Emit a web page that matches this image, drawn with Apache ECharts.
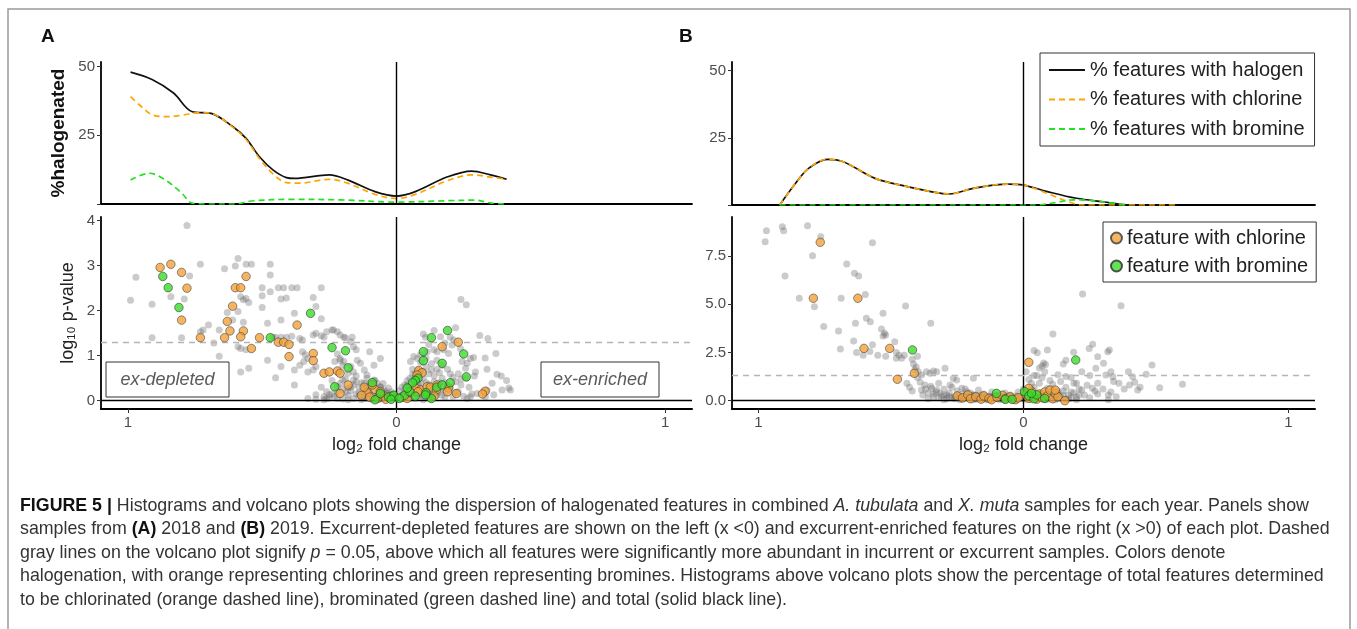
<!DOCTYPE html>
<html>
<head>
<meta charset="utf-8">
<title>Figure 5</title>
<script src="https://cdn.jsdelivr.net/npm/echarts@6/dist/echarts.min.js"></script>
<style>
html, body { margin: 0; padding: 0; background: #fff; }
#chart { width: 1357px; height: 629px; }
</style>
</head>
<body>
<div id="chart"></div>
<script>
// tick values
const xTickValues = [-1, 0, 1]
const histTickValues = [0, 25, 50]
const histLabelValues = [25, 50]
const pTicksA = [0, 1, 2, 3, 4]
const pTicksB = [0, 2.5, 5, 7.5]
const pCutoff = 1.3

// histogram curves, [log2 fold change, % halogenated]
const histAHalogen = [[-0.99, 48.0], [-0.91, 45.3], [-0.83, 40.4], [-0.76, 33.6], [-0.69, 33.0], [-0.61, 28.2], [-0.56, 23.9], [-0.51, 17.2], [-0.46, 12.4], [-0.41, 9.6], [-0.38, 9.3], [-0.25, 10.6], [-0.18, 8.7], [-0.08, 4.5], [0, 2.9], [0.07, 4.5], [0.19, 9.9], [0.28, 12.0], [0.35, 10.6], [0.41, 9.0]]
const histAChlorine = [[-0.99, 39.1], [-0.95, 35.5], [-0.91, 32.5], [-0.86, 31.8], [-0.8, 32.3], [-0.73, 33.3], [-0.69, 33.0], [-0.61, 28.0], [-0.56, 23.5], [-0.51, 16.5], [-0.46, 11.0], [-0.41, 7.8], [-0.36, 7.6], [-0.25, 9.0], [-0.18, 7.5], [-0.08, 3.5], [0, 2.0], [0.07, 3.5], [0.19, 8.5], [0.28, 10.6], [0.35, 9.8], [0.41, 9.0]]
const histABromine = [[-0.99, 8.7], [-0.92, 11.2], [-0.86, 8.7], [-0.8, 4.0], [-0.76, 0.3], [-0.7, 0], [-0.6, 0], [-0.54, 1.1], [-0.39, 1.7], [-0.21, 1.5], [0, 0.7], [0.19, 1.2], [0.29, 1.4], [0.35, 0.4], [0.4, 0]]
const histBHalogen = [[-0.92, 0], [-0.86, 8.1], [-0.81, 13.7], [-0.74, 17.0], [-0.68, 16.1], [-0.56, 9.9], [-0.45, 7.1], [-0.35, 5.0], [-0.28, 4.1], [-0.19, 6.2], [-0.06, 7.8], [0, 7.4], [0.09, 5.0], [0.2, 2.5], [0.3, 1.2], [0.4, 0], [0.58, 0]]
const histBChlorine = [[-0.92, 0], [-0.86, 8.1], [-0.81, 13.7], [-0.74, 17.0], [-0.68, 16.1], [-0.56, 9.9], [-0.45, 7.1], [-0.35, 5.0], [-0.28, 4.1], [-0.19, 6.2], [-0.06, 7.8], [0, 7.4], [0.09, 4.3], [0.17, 1.2], [0.22, 0], [0.58, 0]]
const histBBromine = [[-0.92, 0], [0.05, 0], [0.12, 0.9], [0.19, 1.9], [0.26, 1.6], [0.34, 0.6], [0.4, 0]]

// volcano points, [log2 fold change, log10 p-value]
const volcanoAOther = [
  [-0.99, 2.23], [-0.97, 2.74], [-0.91, 2.14], [-0.91, 1.40], [-0.84, 2.31], [-0.80, 1.40], [-0.79, 2.26], [-0.78, 3.89], [-0.77, 2.77], [-0.73, 3.03],
  [-0.72, 1.57], [-0.73, 1.53], [-0.70, 1.68], [-0.68, 1.28], [-0.66, 1.57], [-0.66, 0.99], [-0.64, 2.93], [-0.63, 1.96], [-0.61, 1.79], [-0.60, 2.99],
  [-0.59, 3.16], [-0.59, 1.98], [-0.59, 1.20], [-0.58, 2.31], [-0.58, 1.16], [-0.58, 0.64], [-0.57, 2.24], [-0.57, 1.74], [-0.56, 3.03], [-0.56, 2.27],
  [-0.56, 1.13], [-0.55, 2.18], [-0.55, 0.72], [-0.54, 3.03], [-0.50, 2.51], [-0.50, 2.33], [-0.50, 2.07], [-0.48, 1.72], [-0.48, 0.90], [-0.47, 3.03],
  [-0.47, 2.79], [-0.47, 2.42], [-0.46, 1.41], [-0.45, 1.41], [-0.45, 0.51], [-0.44, 2.51], [-0.43, 2.26], [-0.43, 1.79], [-0.43, 1.41], [-0.43, 0.76],
  [-0.42, 2.51], [-0.41, 2.28], [-0.41, 1.41], [-0.39, 2.51], [-0.39, 1.43], [-0.38, 1.94], [-0.38, 0.68], [-0.38, 0.35], [-0.37, 2.51], [-0.36, 1.38],
  [-0.36, 0.79], [-0.35, 1.35], [-0.35, 1.09], [-0.345, 0.87], [-0.34, 1.02], [-0.33, 0.94], [-0.33, 0.64], [-0.31, 1.46], [-0.31, 2.29], [-0.31, 0.68],
  [-0.30, 2.09], [-0.30, 1.50], [-0.30, 0.76], [-0.30, 0.13], [-0.28, 2.51], [-0.28, 1.82], [-0.28, 1.44], [-0.27, 1.41], [-0.27, 0.09], [-0.26, 1.53],
  [-0.25, 0.13], [-0.24, 1.57], [-0.235, 1.57], [-0.23, 0.87], [-0.22, 1.53], [-0.22, 1.04], [-0.22, 0.20], [-0.21, 1.46], [-0.21, 0.94], [-0.21, 0.90],
  [-0.20, 0.79], [-0.20, 0.46], [-0.196, 1.41], [-0.196, 0.87], [-0.19, 1.40], [-0.18, 0.61], [-0.18, 0.28], [-0.17, 1.31], [-0.17, 0.76], [-0.165, 1.41],
  [-0.16, 1.20], [-0.16, 0.64], [-0.16, 0.46], [-0.16, 0.35], [-0.15, 1.13], [-0.15, 0.42], [-0.146, 0.90], [-0.134, 0.83], [-0.12, 0.68], [-0.12, 0.39],
  [-0.11, 0.57], [-0.11, 0.31], [-0.10, 1.09], [-0.084, 0.79], [-0.084, 0.46], [-0.072, 0.39], [-0.06, 0.94], [-0.06, 0.31], [-0.047, 0.24], [-0.035, 0.16],
  [-0.022, 0.13], [-0.33, 0.05], [-0.30, 0.03], [-0.27, 0.02], [-0.25, 0.06], [-0.23, 0.10], [-0.20, 0.04], [-0.18, 0.12], [-0.16, 0.05], [-0.14, 0.18],
  [-0.12, 0.08], [-0.10, 0.25], [-0.09, 0.02], [-0.07, 0.12], [-0.06, 0.30], [-0.05, 0.05], [-0.04, 0.20], [-0.03, 0.10], [-0.02, 0.03], [-0.01, 0.15],
  [-0.20, 0.25], [-0.22, 0.32], [-0.17, 0.30], [-0.13, 0.40], [-0.11, 0.50], [-0.15, 0.55], [-0.08, 0.45], [-0.05, 0.38], [-0.03, 0.28], [-0.24, 0.45],
  [-0.26, 0.20], [-0.28, 0.30], [-0.19, 0.48], [-0.12, 0.30], [-0.10, 0.15], [-0.06, 0.08], [-0.14, 0.10],
  [-0.26, 0.05], [-0.24, 0.15], [-0.22, 0.05], [-0.21, 0.38], [-0.19, 0.18], [-0.18, 0.02], [-0.17, 0.22], [-0.15, 0.15], [-0.14, 0.30], [-0.13, 0.02],
  [-0.12, 0.15], [-0.11, 0.05], [-0.10, 0.38], [-0.09, 0.12], [-0.08, 0.08], [-0.07, 0.25], [-0.06, 0.04], [-0.04, 0.12], [-0.02, 0.20], [-0.01, 0.06],
  [0.24, 2.25], [0.26, 2.13], [0.14, 1.56], [0.108, 1.41], [0.164, 1.42], [0.20, 1.41], [0.213, 1.35], [0.064, 0.98], [0.077, 0.94], [0.052, 0.87],
  [0.089, 1.02], [0.114, 1.09], [0.139, 1.13], [0.151, 1.09], [0.176, 1.13], [0.194, 1.05], [0.207, 1.24], [0.238, 1.16], [0.244, 0.87], [0.263, 0.83],
  [0.275, 0.94], [0.287, 0.96], [0.257, 0.72], [0.294, 0.64], [0.337, 0.70], [0.374, 0.59], [0.356, 0.39], [0.393, 0.24], [0.418, 0.28], [0.424, 0.24],
  [0.337, 0.24], [0.362, 0.13], [0.331, 0.09], [0.30, 0.16], [0.275, 0.09], [0.263, 0.05], [0.34, 1.38], [0.31, 1.45], [0.37, 1.05], [0.33, 0.95],
  [0.39, 0.55], [0.41, 0.45], [0.22, 1.62], [0.18, 1.28], [0.12, 1.25], [0.10, 1.48],
  [0.01, 0.05], [0.02, 0.12], [0.03, 0.22], [0.04, 0.08], [0.05, 0.32], [0.06, 0.18], [0.07, 0.42], [0.08, 0.10], [0.09, 0.28], [0.10, 0.50],
  [0.11, 0.20], [0.12, 0.36], [0.13, 0.06], [0.14, 0.55], [0.15, 0.25], [0.16, 0.62], [0.17, 0.12], [0.18, 0.40], [0.19, 0.70], [0.20, 0.30],
  [0.21, 0.52], [0.22, 0.18], [0.23, 0.60], [0.24, 0.35], [0.25, 0.10], [0.04, 0.45], [0.06, 0.58], [0.08, 0.68], [0.11, 0.75], [0.13, 0.82],
  [0.15, 0.90], [0.12, 0.60], [0.09, 0.40], [0.03, 0.35], [0.05, 0.15], [0.07, 0.05], [0.10, 0.02], [0.14, 0.15], [0.16, 0.40], [0.18, 0.08],
  [0.20, 0.60], [0.22, 0.42], [0.26, 0.50], [0.27, 0.30], [0.28, 0.15], [0.29, 0.55], [0.02, 0.30], [0.06, 0.70], [0.09, 0.85], [0.17, 0.78],
  [0.11, 0.95], [0.00, 0.10], [0.01, 0.22], [0.02, 0.04], [0.03, 0.15], [0.04, 0.35], [0.05, 0.06], [0.06, 0.28], [0.07, 0.20], [0.08, 0.38],
  [0.09, 0.15], [0.10, 0.10], [0.11, 0.40], [0.12, 0.22], [0.13, 0.30], [0.14, 0.42], [0.15, 0.12], [0.16, 0.20], [0.17, 0.50], [0.18, 0.25],
  [0.19, 0.35], [0.21, 0.10], [0.23, 0.20], [0.24, 0.48], [0.10, 0.65], [0.07, 0.60], [0.13, 0.68], [0.05, 0.50], [0.15, 0.70]
]
const volcanoAChlorine = [
  [-0.88, 2.96], [-0.84, 3.03], [-0.80, 2.85], [-0.78, 2.50], [-0.80, 1.79], [-0.73, 1.40], [-0.64, 1.40], [-0.62, 1.55], [-0.63, 1.76], [-0.61, 2.10],
  [-0.60, 2.51], [-0.58, 2.51], [-0.56, 2.76], [-0.57, 1.55], [-0.58, 1.42], [-0.54, 1.16], [-0.51, 1.40], [-0.44, 1.30], [-0.42, 1.30], [-0.40, 1.25],
  [-0.40, 0.98], [-0.37, 1.68], [-0.31, 1.05], [-0.31, 0.89], [-0.27, 0.61], [-0.25, 0.64], [-0.22, 0.66], [-0.21, 0.61], [-0.18, 0.35], [-0.21, 0.16],
  [-0.11, 0.18], [-0.10, 0.08], [-0.08, 0.25], [-0.07, 0.05], [-0.05, 0.12], [-0.04, 0.03], [-0.02, 0.10], [-0.12, 0.30], [-0.09, 0.35], [-0.06, 0.20],
  [-0.13, 0.12],
  [0.23, 1.30], [0.17, 1.20], [0.083, 0.67], [0.095, 0.62], [0.077, 0.57], [0.071, 0.28], [0.089, 0.24], [0.114, 0.31], [0.126, 0.30], [0.151, 0.35],
  [0.149, 0.24], [0.194, 0.28], [0.223, 0.16], [0.126, 0.08], [0.33, 0.21], [0.32, 0.15], [0.02, 0.08], [0.04, 0.05], [0.05, 0.18], [0.14, 0.10],
  [0.19, 0.20], [0.08, 0.20]
]
const volcanoABromine = [
  [-0.87, 2.76], [-0.85, 2.51], [-0.81, 2.07], [-0.32, 1.94], [-0.47, 1.40], [-0.24, 1.18], [-0.19, 1.11], [-0.18, 0.73], [-0.23, 0.31], [-0.09, 0.40],
  [-0.06, 0.16], [-0.08, 0.02], [-0.03, 0.08], [-0.01, 0.12], [-0.02, 0.03],
  [0.19, 1.56], [0.13, 1.40], [0.10, 1.09], [0.10, 0.89], [0.17, 0.83], [0.25, 1.04], [0.26, 0.53], [0.08, 0.50], [0.07, 0.45], [0.06, 0.40],
  [0.15, 0.30], [0.17, 0.35], [0.20, 0.40], [0.03, 0.12], [0.05, 0.20], [0.07, 0.10], [0.11, 0.18], [0.13, 0.05], [0.01, 0.05], [0.04, 0.28],
  [0.108, 0.13]
]

const volcanoBOther = [
  [-0.975, 8.24], [-0.97, 8.81], [-0.91, 9.02], [-0.905, 8.81], [-0.90, 6.46], [-0.846, 5.31], [-0.815, 9.07], [-0.796, 7.51], [-0.789, 4.87], [-0.765, 8.50],
  [-0.754, 3.84], [-0.698, 3.61], [-0.691, 2.68], [-0.688, 5.31], [-0.667, 7.08], [-0.641, 3.09], [-0.638, 6.60], [-0.634, 4.01], [-0.63, 2.50], [-0.622, 6.46],
  [-0.605, 2.35], [-0.597, 5.51], [-0.593, 4.27], [-0.58, 2.55], [-0.578, 4.09], [-0.57, 8.19], [-0.57, 2.90], [-0.55, 2.35], [-0.536, 3.71], [-0.53, 4.53],
  [-0.53, 3.35], [-0.525, 3.50], [-0.52, 3.40], [-0.52, 2.30], [-0.486, 3.06], [-0.48, 2.50], [-0.48, 2.20], [-0.47, 2.35], [-0.46, 2.20], [-0.45, 2.35],
  [-0.445, 4.91], [-0.42, 2.15], [-0.415, 1.90], [-0.41, 1.60], [-0.405, 1.75], [-0.40, 2.30], [-0.397, 1.50], [-0.385, 1.33], [-0.372, 0.81], [-0.385, 0.55],
  [-0.366, 1.50], [-0.353, 1.42], [-0.35, 4.01], [-0.347, 0.64], [-0.34, 1.54], [-0.328, 1.50], [-0.328, 0.55], [-0.315, 0.38], [-0.296, 1.68], [-0.29, 0.30],
  [-0.277, 0.81], [-0.265, 1.16], [-0.252, 1.07], [-0.233, 0.64], [-0.214, 0.47], [-0.189, 1.16], [-0.189, 0.30],
  [-0.44, 0.90], [-0.43, 0.70], [-0.42, 0.50], [-0.40, 1.20], [-0.39, 0.95], [-0.38, 0.30], [-0.37, 0.60], [-0.36, 0.40], [-0.35, 0.75], [-0.34, 0.20],
  [-0.33, 0.45], [-0.32, 0.90], [-0.31, 0.25], [-0.30, 0.60], [-0.29, 0.10], [-0.28, 0.40], [-0.27, 0.70], [-0.26, 0.20], [-0.25, 0.50], [-0.24, 0.05],
  [-0.23, 0.35], [-0.22, 0.60], [-0.21, 0.15], [-0.20, 0.40], [-0.19, 0.05], [-0.18, 0.30], [-0.17, 0.55], [-0.16, 0.15], [-0.15, 0.35], [-0.14, 0.05],
  [-0.13, 0.25], [-0.12, 0.45], [-0.11, 0.10], [-0.10, 0.30], [-0.09, 0.05], [-0.08, 0.20], [-0.07, 0.40], [-0.06, 0.10], [-0.05, 0.30], [-0.04, 0.02],
  [-0.03, 0.25], [-0.02, 0.45], [-0.01, 0.10], [-0.30, 0.30], [-0.27, 0.15], [-0.22, 0.25], [-0.17, 0.10], [-0.12, 0.20], [-0.06, 0.25],
  [-0.36, 0.10], [-0.34, 0.35], [-0.32, 0.15], [-0.30, 0.05], [-0.28, 0.22], [-0.26, 0.10], [-0.25, 0.30], [-0.24, 0.18], [-0.23, 0.08], [-0.21, 0.22],
  [-0.20, 0.12], [-0.19, 0.28], [-0.18, 0.08], [-0.17, 0.20], [-0.16, 0.30], [-0.15, 0.10], [-0.14, 0.22], [-0.13, 0.05], [-0.11, 0.25], [-0.10, 0.12],
  [-0.09, 0.20], [-0.08, 0.06], [-0.07, 0.22], [-0.05, 0.10], [-0.04, 0.18], [-0.03, 0.08], [-0.01, 0.25],
  [0.223, 5.53], [0.368, 4.92], [0.111, 3.46], [0.052, 2.49], [0.09, 2.63], [0.07, 1.80], [0.076, 1.95], [0.083, 1.88], [0.248, 2.71], [0.261, 2.92],
  [0.324, 2.63], [0.318, 2.54], [0.28, 2.28], [0.302, 1.94], [0.33, 1.50], [0.273, 1.68], [0.311, 1.33], [0.337, 1.24], [0.396, 1.50], [0.412, 1.24],
  [0.40, 0.81], [0.431, 0.55], [0.485, 1.85], [0.463, 1.37], [0.514, 0.67], [0.60, 0.85], [0.32, 0.05], [0.189, 2.51], [0.15, 1.90], [0.16, 2.10],
  [0.42, 0.95], [0.44, 0.70], [0.38, 0.60], [0.36, 0.90], [0.34, 1.00], [0.32, 0.30], [0.06, 1.70], [0.05, 1.30], [0.08, 1.50], [0.04, 2.60],
  [0.18, 1.20], [0.20, 0.90], [0.22, 1.50], [0.24, 0.80], [0.25, 1.30], [0.21, 0.60], [0.27, 0.50], [0.28, 0.90],
  [0.00, 0.60], [0.01, 0.20], [0.02, 0.45], [0.03, 0.05], [0.04, 0.70], [0.05, 0.25], [0.06, 0.90], [0.07, 0.40], [0.08, 0.05], [0.09, 0.65],
  [0.10, 0.30], [0.11, 0.85], [0.12, 0.15], [0.13, 0.50], [0.14, 1.00], [0.15, 0.30], [0.16, 0.70], [0.17, 0.10], [0.18, 0.45], [0.19, 0.90],
  [0.20, 0.20], [0.22, 0.55], [0.23, 0.30], [0.25, 0.15], [0.26, 0.65], [0.28, 0.35], [0.30, 0.60], [0.33, 0.45], [0.35, 0.20], [0.02, 1.10],
  [0.04, 1.30], [0.03, 0.90], [0.07, 1.20], [0.10, 1.05], [0.13, 1.35], [0.16, 1.25], [0.01, 1.50],
  [0.01, 0.08], [0.02, 0.30], [0.03, 0.18], [0.05, 0.10], [0.06, 0.20], [0.07, 0.30], [0.09, 0.08], [0.10, 0.18], [0.11, 0.30], [0.12, 0.05],
  [0.13, 0.35], [0.14, 0.20], [0.15, 0.50], [0.16, 0.08], [0.17, 0.30], [0.18, 0.15], [0.19, 0.40], [0.20, 0.05], [0.21, 0.30]
]
const volcanoBChlorine = [
  [-0.767, 8.21], [-0.793, 5.31], [-0.625, 5.31], [-0.602, 2.71], [-0.505, 2.71], [-0.476, 1.11], [-0.412, 1.42], [0.02, 1.99],
  [-0.25, 0.25], [-0.23, 0.15], [-0.21, 0.30], [-0.20, 0.10], [-0.18, 0.20], [-0.16, 0.08], [-0.15, 0.25], [-0.13, 0.12], [-0.12, 0.05], [-0.10, 0.18],
  [-0.08, 0.28], [-0.07, 0.10], [-0.05, 0.20], [-0.03, 0.05], [-0.02, 0.15], [0.01, 0.30], [0.02, 0.12], [0.03, 0.50], [0.04, 0.22], [0.05, 0.08],
  [0.06, 0.35], [0.07, 0.15], [0.08, 0.45], [0.09, 0.25], [0.10, 0.55], [0.11, 0.10], [0.12, 0.38], [0.02, 0.64], [0.13, 0.20], [0.156, 0.0],
  [0.12, 0.55]
]
const volcanoBBromine = [
  [-0.419, 2.63], [0.197, 2.11], [-0.102, 0.38], [-0.068, 0.07], [-0.043, 0.07], [0.004, 0.47], [0.02, 0.25], [0.04, 0.10], [0.05, 0.30], [0.08, 0.12],
  [0.03, 0.38]
]

const captionLines = [
  '{b|FIGURE 5 |} Histograms and volcano plots showing the dispersion of halogenated features in combined {i|A. tubulata} and {i|X. muta} samples for each year. Panels show',
  'samples from {b|(A)} 2018 and {b|(B)} 2019. Excurrent-depleted features are shown on the left (x <0) and excurrent-enriched features on the right (x >0) of each plot. Dashed',
  'gray lines on the volcano plot signify {i|p} = 0.05, above which all features were significantly more abundant in incurrent or excurrent samples. Colors denote',
  'halogenation, with orange representing chlorines and green representing bromines. Histograms above volcano plots show the percentage of total features determined',
  'to be chlorinated (orange dashed line), brominated (green dashed line) and total (solid black line).'
]

const FONT = 'Liberation Sans, Arial, sans-serif'
const C_HAL = '#111111'
const C_CL = '#ffa500'
const C_BR = '#22e022'
const CAPTION_SIZE = 17.8

function topX(gridIndex) {
  return {
    gridIndex: gridIndex, type: 'value', min: -1.1, max: 1.1,
    axisLine: { onZero: false, lineStyle: { color: '#000', width: 1.8 } },
    axisTick: { show: false }, axisLabel: { show: false }, splitLine: { show: false }
  }
}
function bottomX(gridIndex) {
  return {
    gridIndex: gridIndex, type: 'value', min: -1.1, max: 1.1,
    name: 'log₂ fold change', nameLocation: 'middle', nameGap: 27,
    nameTextStyle: { fontFamily: FONT, fontSize: 18, color: '#222' },
    axisLine: { onZero: false, lineStyle: { color: '#000', width: 2 } },
    axisTick: { customValues: xTickValues, length: 4, lineStyle: { color: '#333' } },
    axisLabel: { customValues: xTickValues, formatter: v => String(Math.abs(v)), fontFamily: FONT, fontSize: 15, color: '#4d4d4d', margin: 6 },
    splitLine: { show: false }
  }
}
function yAx(gridIndex, min, max, ticks, labels, fmt) {
  return {
    gridIndex: gridIndex, type: 'value', min: min, max: max,
    axisLine: { show: true, onZero: false, lineStyle: { color: '#000', width: 1.8 } },
    axisTick: { show: true, customValues: ticks, length: 4, lineStyle: { color: '#333' } },
    axisLabel: { customValues: labels, formatter: fmt, fontFamily: FONT, fontSize: 15, color: '#4d4d4d', margin: 6 },
    splitLine: { show: false }
  }
}

const zeroV = { xAxis: 0 }
function markLines(data) {
  return {
    silent: true, symbol: ['none', 'none'], animation: false,
    label: { show: false },
    lineStyle: { color: '#000', width: 1.4, type: 'solid' },
    data: data
  }
}

function histLine(name, data, color, dashed, x, y, extra) {
  const s = {
    name: name, type: 'line', xAxisIndex: x, yAxisIndex: y, data: data,
    smooth: 0.35, symbol: 'none', showSymbol: false,
    lineStyle: { color: color, width: 1.7, type: dashed ? [6, 4] : 'solid' },
    itemStyle: { color: color }, z: dashed ? 4 : 3
  }
  return Object.assign(s, extra || {})
}

function points(name, data, x, y, kind, extra) {
  let style
  if (kind === 'other') style = { color: 'rgba(100,100,100,0.42)' }
  if (kind === 'cl') style = { color: '#f2a13a', borderColor: '#3a3a3a', borderWidth: 0.7 }
  if (kind === 'br') style = { color: '#3bdc2c', borderColor: '#2a2a2a', borderWidth: 0.7 }
  const s = {
    name: name, type: 'scatter', xAxisIndex: x, yAxisIndex: y, data: data,
    symbolSize: kind === 'other' ? 7 : 8.5, itemStyle: style, clip: false,
    z: kind === 'other' ? 2 : (kind === 'cl' ? 5 : 6)
  }
  return Object.assign(s, extra || {})
}

const dashed13 = { yAxis: pCutoff, lineStyle: { color: '#b5b5b5', width: 1.3, type: [6, 5] } }

const graphic = [
  { type: 'rect', silent: true, shape: { x: 8, y: 9, width: 1342, height: 700 }, style: { fill: 'none', stroke: '#9a9a9a', lineWidth: 1.5 } },
  { type: 'text', x: 41, y: 37, style: { text: 'A', font: 'bold 19px ' + FONT, fill: '#111', verticalAlign: 'middle' } },
  { type: 'text', x: 679, y: 37, style: { text: 'B', font: 'bold 19px ' + FONT, fill: '#111', verticalAlign: 'middle' } },
  { type: 'rect', z: 100, shape: { x: 106, y: 362, width: 123, height: 35 }, style: { fill: '#fff', stroke: '#333', lineWidth: 1 } },
  { type: 'text', z: 101, x: 167.5, y: 380, style: { text: 'ex-depleted', align: 'center', verticalAlign: 'middle', font: 'italic 18px ' + FONT, fill: '#5a5a5a' } },
  { type: 'rect', z: 100, shape: { x: 541, y: 362, width: 118, height: 35 }, style: { fill: '#fff', stroke: '#333', lineWidth: 1 } },
  { type: 'text', z: 101, x: 600, y: 380, style: { text: 'ex-enriched', align: 'center', verticalAlign: 'middle', font: 'italic 18px ' + FONT, fill: '#5a5a5a' } }
]
const captionY = [506, 529.5, 553, 576.5, 600]
captionLines.forEach(function(line, i) {
  graphic.push({
    type: 'text', x: 20, y: captionY[i], z: 100,
    style: {
      text: line, fontFamily: FONT, fontSize: CAPTION_SIZE, fill: '#333', verticalAlign: 'middle',
      rich: {
        b: { fontFamily: FONT, fontSize: CAPTION_SIZE, fontWeight: 'bold', fill: '#111' },
        i: { fontFamily: FONT, fontSize: CAPTION_SIZE, fontStyle: 'italic', fill: '#333' }
      }
    }
  })
})

const option = {
  animation: false,
  backgroundColor: '#fff',
  textStyle: { fontFamily: FONT },
  grid: [
    { left: 101, top: 62, width: 591, height: 142 },
    { left: 732, top: 62, width: 583, height: 143 },
    { left: 101, top: 217, width: 591, height: 192 },
    { left: 732, top: 217, width: 583, height: 192 }
  ],
  xAxis: [topX(0), topX(1), bottomX(2), bottomX(3)],
  yAxis: [
    Object.assign(yAx(0, 0, 51.7, histTickValues, histLabelValues), {
      name: '%halogenated', nameLocation: 'middle', nameGap: 33,
      nameTextStyle: { fontFamily: FONT, fontSize: 19, fontWeight: 'bold', color: '#111' }
    }),
    yAx(1, 0, 53.2, histTickValues, histLabelValues),
    Object.assign(yAx(2, -0.184, 4.08, pTicksA, pTicksA), {
      name: 'log₁₀ p-value', nameLocation: 'middle', nameGap: 24,
      nameTextStyle: { fontFamily: FONT, fontSize: 18, color: '#222' }
    }),
    yAx(3, -0.43, 9.52, pTicksB, pTicksB, v => v.toFixed(1))
  ],
  legend: [
    {
      left: 1040, top: 53, orient: 'vertical', itemWidth: 36, itemHeight: 14, itemGap: 9.5,
      padding: [7, 10, 7, 8], borderColor: '#333', borderWidth: 1, backgroundColor: '#fff',
      itemStyle: { opacity: 0 },
      textStyle: { fontFamily: FONT, fontSize: 20, color: '#222' },
      data: ['% features with halogen', '% features with chlorine', '% features with bromine']
    },
    {
      left: 1103, top: 222, orient: 'vertical', itemWidth: 11, itemHeight: 11, itemGap: 8,
      padding: [6, 8, 6, 7], borderColor: '#333', borderWidth: 1, backgroundColor: '#fff',
      textStyle: { fontFamily: FONT, fontSize: 20, color: '#222' },
      icon: 'circle',
      data: ['feature with chlorine', 'feature with bromine']
    }
  ],
  graphic: graphic,
  series: [
    histLine('% features with halogen', histAHalogen, C_HAL, false, 0, 0, { markLine: markLines([zeroV]) }),
    histLine('% features with chlorine', histAChlorine, C_CL, true, 0, 0),
    histLine('% features with bromine', histABromine, C_BR, true, 0, 0),
    histLine('% features with halogen', histBHalogen, C_HAL, false, 1, 1, { markLine: markLines([zeroV]) }),
    histLine('% features with chlorine', histBChlorine, C_CL, true, 1, 1),
    histLine('% features with bromine', histBBromine, C_BR, true, 1, 1),
    points('other feature', volcanoAOther, 2, 2, 'other', { markLine: markLines([zeroV, { yAxis: 0 }, dashed13]) }),
    points('feature with chlorine', volcanoAChlorine, 2, 2, 'cl'),
    points('feature with bromine', volcanoABromine, 2, 2, 'br'),
    points('other feature', volcanoBOther, 3, 3, 'other', { markLine: markLines([zeroV, { yAxis: 0 }, dashed13]) }),
    points('feature with chlorine', volcanoBChlorine, 3, 3, 'cl'),
    points('feature with bromine', volcanoBBromine, 3, 3, 'br')
  ]
}

const chart = echarts.init(document.getElementById('chart'))
chart.setOption(option)
</script>
</body>
</html>
